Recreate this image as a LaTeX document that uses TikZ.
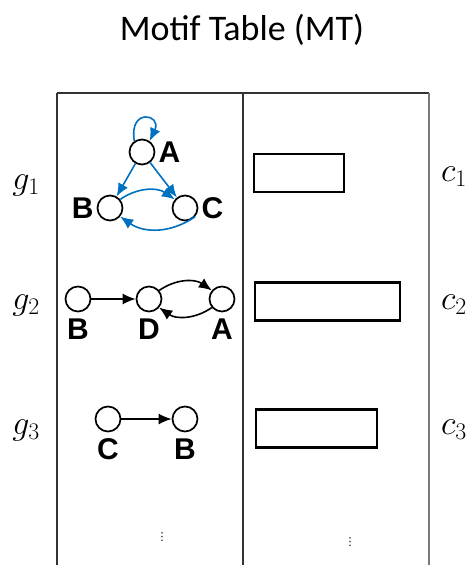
\RequirePackage{fix-cm}
\documentclass[tikz,border=0pt]{standalone}
\usepackage{fontspec}
\setmainfont{Carlito}
\newfontfamily\labelfont{Liberation Sans}
\newfontfamily\dotsfont{DejaVu Sans}
\usetikzlibrary{arrows.meta,positioning}
\definecolor{motifblue}{RGB}{0,112,192}
\definecolor{rulegray}{RGB}{120,120,120}
\tikzstyle{vertex} = [circle, draw, line width=1.7pt, minimum size=25pt, inner sep=0pt]
\tikzstyle{vlabel} = [inner sep=0pt, font=\fontsize{30}{30}\labelfont\bfseries]
\tikzstyle{edge} = [draw, line width=1.6pt, -{Latex[length=13pt, width=11pt]}]
\tikzstyle{countbox} = [rectangle, draw, line width=2.8pt, minimum height=38pt, inner sep=0pt]
\tikzstyle{rowname} = [font=\fontsize{34}{38}\selectfont]
\tikzstyle{rule} = [line width=1.3pt]
\tikzstyle{more} = [inner sep=0pt, font=\fontsize{11}{11}\dotsfont]

\begin{document}
\begin{tikzpicture}[x=1pt, y=-1pt]
	\useasboundingbox (0,0) rectangle (474,565);
	% Title
	\node [font=\fontsize{36}{40}\selectfont] (title) at (242,30) {Motif Table (MT)};
	% Table
	\coordinate (tl) at (57,93);
	\coordinate (tm) at (243,93);
	\coordinate (tr) at (429,93);
	\draw [rule, black!80] (tl) -- (tr);
	\draw [rule, black!80] (tl) -- (57,565);
	\draw [rule, black!80] (tm) -- (243,565);
	\draw [rule, rulegray] (tr) -- (429,565);
	% Motif g1
	\node [vertex] (a1) at (142,152) {};
	\node [vertex] (b1) at (110,208) {};
	\node [vertex] (c1) at (185,208) {};
	\node [vlabel, right=3pt of a1] {A};
	\node [vlabel, left=3pt of b1] {B};
	\node [vlabel, right=3pt of c1] {C};
	\path [edge, motifblue] (a1) -- (b1);
	\path [edge, motifblue] (a1) -- (c1);
	\path [edge, motifblue] (b1.40) to [bend left=35] (c1.140);
	\path [edge, motifblue] (c1.-40) to [bend left=35] (b1.-40);
	\path [edge, motifblue] (a1.125) .. controls +(-100:34) and +(-65:30) .. (a1.55);
	% Motif g2
	\node [vertex] (b2) at (78,299) {};
	\node [vertex] (d2) at (149,299) {};
	\node [vertex] (a2) at (222,299) {};
	\node [vlabel, below=6pt of b2] {B};
	\node [vlabel, below=6pt of d2] {D};
	\node [vlabel, below=6pt of a2] {A};
	\path [edge] (b2) -- (d2);
	\path [edge] (d2.40) to [bend left=35] (a2.140);
	\path [edge] (a2.-140) to [bend left=35] (d2.-40);
	% Motif g3
	\node [vertex] (c3) at (108,419) {};
	\node [vertex] (b3) at (185,419) {};
	\node [vlabel, below=6pt of c3] {C};
	\node [vlabel, below=6pt of b3] {B};
	\path [edge] (c3) -- (b3);
	% Counts
	\node [countbox, minimum width=90pt] (cnt1) at (299,173) {};
	\node [countbox, minimum width=145pt] (cnt2) at (327.5,301.5) {};
	\node [countbox, minimum width=121pt] (cnt3) at (316.5,428.5) {};
	% Row names
	\node [rowname] (g1) at (26,185) {$g_1$};
	\node [rowname] (g2) at (26,305) {$g_2$};
	\node [rowname] (g3) at (26,430) {$g_3$};
	\node [rowname] (n1) at (454,177) {$c_1$};
	\node [rowname] (n2) at (454,305) {$c_2$};
	\node [rowname] (n3) at (454,430) {$c_3$};
	% More rows
	\node [more] (more1) at (162,537) {⋮};
	\node [more] (more2) at (350,542) {⋮};
\end{tikzpicture}
\end{document}
